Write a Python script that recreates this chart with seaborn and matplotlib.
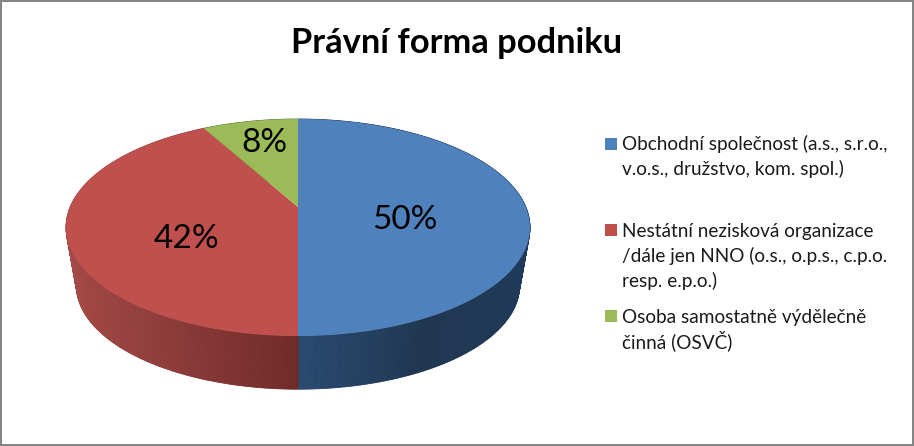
import numpy as np
import seaborn as sns
import matplotlib.pyplot as plt
from matplotlib.collections import PolyCollection
from matplotlib.colors import to_rgb

categories = ["Obchodní společnost (a.s., s.r.o.,\nv.o.s., družstvo, kom. spol.)",
              "Nestátní nezisková organizace\n/dále jen NNO (o.s., o.p.s., c.p.o.\nresp. e.p.o.)",
              "Osoba samostatně výdělečně\nčinná (OSVČ)"]
values = [50, 42, 8]
title = "Právní forma podniku"

colors = ["#4F81BD", "#C0504D", "#9BBB59"]
# side shading, from the front of the pie out to its edge
side_stops = [["#2A4A70", "#1F3651", "#1F3A5A"],
              ["#6F2B29", "#8B3A38", "#A84C49"],
              ["#5F7238", "#5F7238", "#5F7238"]]

sns.set_theme(style="white")
plt.rcParams["font.family"] = ["Lato", "DejaVu Sans"]

# pie geometry in pixels, k gives the perspective
cx, cy = 298, 207
a, b, k = 104.6, 227.8, 0.189
side_scale, side_cy = 0.955, 266


def project(theta, scale=1.0, centre=cy):
    u = np.cos(np.radians(theta))
    v = np.sin(np.radians(theta))
    d = 1 + k * v
    return cx + scale * b * u / d, centre - scale * a * v / d


fig = plt.figure(figsize=(9.14, 4.46), dpi=100)
fig.patch.set_edgecolor("#868686")
fig.patch.set_linewidth(2.88)
ax = fig.add_axes([0, 0, 1, 1])

wedges, _ = ax.pie(values, startangle=90, counterclock=False, colors=colors)

for w, col, stops in zip(wedges, colors, side_stops):
    w.set_visible(False)
    theta = np.linspace(w.theta1, w.theta2, max(int(w.theta2 - w.theta1) * 2, 2))

    # side first, in thin strips so that the shade can change along it
    tx, ty = project(theta)
    bx, by = project(theta, side_scale, side_cy)
    stops_rgb = np.array([to_rgb(c) for c in stops])
    strips, shades = [], []
    for i in range(len(theta) - 1):
        strips.append([(tx[i], ty[i]), (tx[i + 1], ty[i + 1]), (bx[i + 1], by[i + 1]), (bx[i], by[i])])
        u = abs(np.cos(np.radians(theta[i])))
        shades.append([np.interp(u, [0, 0.45, 1], stops_rgb[:, c]) for c in range(3)])
    ax.add_collection(PolyCollection(strips, facecolors=shades, edgecolors=shades, linewidths=0.6, zorder=1))

for w, col in zip(wedges, colors):
    theta = np.linspace(w.theta1, w.theta2, 300)
    tx, ty = project(theta)
    ax.fill(np.r_[cx, tx], np.r_[cy, ty], color=col, lw=0, zorder=2)

ax.set_aspect("auto")
ax.set_xlim(0, 914)
ax.set_ylim(446, 0)
ax.axis("off")

# percent labels
label_pos = [(405, 220), (186, 239), (264, 143)]
for v, (x, y) in zip(values, label_pos):
    ax.text(x, y, f"{v}%", ha="center", va="center", fontsize=24, color="black", zorder=3)

ax.text(457, 43, title, ha="center", va="center", fontsize=24.8, fontweight="bold", color="black")

# legend placed by hand, the gaps between entries are uneven
marker_y = [144, 230, 316]
baseline_y = [150, 237, 323]
for my, by0, cat, col in zip(marker_y, baseline_y, categories, colors):
    ax.scatter([611], [my], marker="s", s=85, color=col, linewidths=0, zorder=3)
    for i, line in enumerate(cat.split("\n")):
        ax.text(622, by0 + i * 25.2, line, ha="left", va="baseline", fontsize=13.7, color="#1a1a1a")

fig.savefig("out.png", dpi=100, edgecolor=fig.get_edgecolor())
